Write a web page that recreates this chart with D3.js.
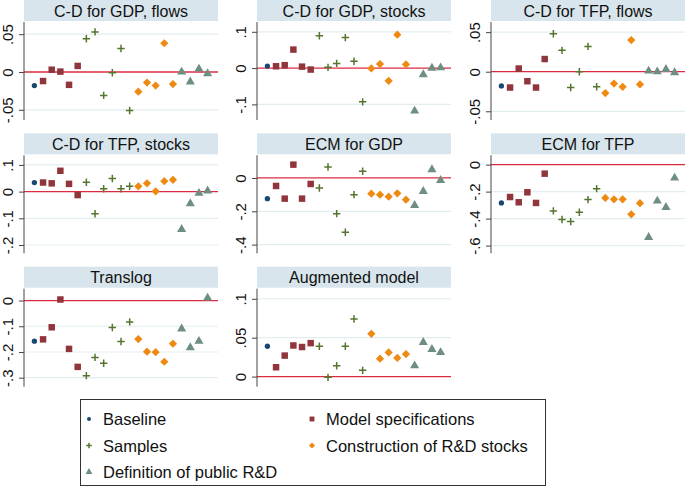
<!DOCTYPE html>
<html>
<head>
<meta charset="utf-8">
<script src="https://cdn.jsdelivr.net/npm/d3@7"></script>
<style>
body { margin: 0; background: #fff; }
text { font-family: Arial, "Liberation Sans", sans-serif; fill: #111; }
</style>
</head>
<body>
<script>
var width = 685;
var height = 487;

// groups of estimates, and which group each of the 21 estimates belongs to
var groups = ["Baseline", "Model specifications", "Samples", "Construction of R&D stocks", "Definition of public R&D"];
var groupOf = [0, 1,1,1,1,1, 2,2,2,2,2,2, 3,3,3,3,3, 4,4,4,4];

var titles = ["C-D for GDP, flows", "C-D for GDP, stocks", "C-D for TFP, flows",
              "C-D for TFP, stocks", "ECM for GDP", "ECM for TFP",
              "Translog", "Augmented model"];

var cdGdpFlows  = [-0.018, -0.012, 0.003, 0.0005, -0.017, 0.008, 0.044, 0.053, -0.031, -0.001, 0.031, -0.051, -0.026, -0.014, -0.018, 0.038, -0.016, 0.0, -0.013, 0.004, -0.002];
var cdGdpStocks = [0.0055, 0.005, 0.008, 0.051, 0.004, -0.004, 0.089, 0.002, 0.013, 0.084, 0.019, -0.093, -0.001, 0.011, -0.035, 0.092, 0.010, -0.118, -0.018, 0.0, 0.001];
var cdTfpFlows  = [-0.018, -0.020, 0.004, -0.012, -0.020, 0.016, 0.048, 0.027, -0.020, 0.0, 0.032, -0.019, -0.027, -0.015, -0.019, 0.040, -0.016, 0.001, 0.0, 0.003, -0.001];
var cdTfpStocks = [0.034, 0.034, 0.031, 0.078, 0.029, -0.013, 0.035, -0.083, 0.011, 0.049, 0.011, 0.020, 0.020, 0.031, 0.001, 0.039, 0.044, -0.141, -0.045, -0.006, 0.003];
var ecmGdp      = [-0.124, -0.048, -0.124, 0.080, -0.124, -0.036, -0.060, 0.066, -0.214, -0.326, -0.100, 0.040, -0.094, -0.100, -0.112, -0.092, -0.130, -0.164, -0.080, 0.050, -0.014];
var ecmTfp      = [-0.284, -0.240, -0.279, -0.205, -0.284, -0.067, -0.343, -0.407, -0.422, -0.353, -0.259, -0.178, -0.247, -0.257, -0.257, -0.368, -0.286, -0.539, -0.269, -0.316, -0.099];
var translog    = [-0.158, -0.151, -0.104, 0.004, -0.188, -0.258, -0.292, -0.221, -0.244, -0.105, -0.159, -0.083, -0.150, -0.199, -0.201, -0.238, -0.168, -0.110, -0.183, -0.158, 0.010];
var augmented   = [0.039, 0.012, 0.027, 0.040, 0.038, 0.043, 0.039, -0.001, 0.014, 0.039, 0.074, 0.008, 0.055, 0.023, 0.031, 0.024, 0.029, 0.014, 0.044, 0.035, 0.031];

var panelValues = [cdGdpFlows, cdGdpStocks, cdTfpFlows, cdTfpStocks, ecmGdp, ecmTfp, translog, augmented];

// y axes of each panel
var yDomains = [[-0.0635, 0.0661], [-0.143, 0.127], [-0.061, 0.0628], [-0.231, 0.136],
                [-0.452, 0.136], [-0.657, 0.069], [-0.335, 0.046], [-0.013, 0.113]];
var yTicks = [[-0.05, 0, 0.05], [-0.1, 0, 0.1], [-0.05, 0, 0.05], [-0.2, -0.1, 0, 0.1],
              [-0.4, -0.2, 0], [-0.6, -0.4, -0.2, 0], [-0.3, -0.2, -0.1, 0], [0, 0.05, 0.1]];
var yTickLabels = [["-.05", "0", ".05"], ["-.1", "0", ".1"], ["-.05", "0", ".05"], ["-.2", "-.1", "0", ".1"],
                   ["-.4", "-.2", "0"], ["-.6", "-.4", "-.2", "0"], ["-.3", "-.2", "-.1", "0"], ["0", ".05", ".1"]];

var colours = ["#1a476f", "#90353b", "#55752f", "#ee8a12", "#6e8e84"];

var svg = d3.select("body").append("svg")
    .attr("width", width)
    .attr("height", height);

var colX = [24, 257, 491];
var rowY = [0, 133.3, 266.7];
var plotW = 194;
var headH = 21;
var plotH = 98;

function drawMarker(g, grp, x, y, s) {
    var c = colours[grp];
    if (grp == 2) {
        var h = 3.7 * s;
        g.append("path")
            .attr("d", "M" + (x - h) + "," + y + "H" + (x + h) + "M" + x + "," + (y - h) + "V" + (y + h))
            .attr("stroke", c).attr("stroke-width", 1.5).attr("fill", "none");
        return;
    }
    // diamonds are drawn as squares turned by 45 degrees
    var type = [d3.symbolCircle, d3.symbolSquare, null, d3.symbolSquare, d3.symbolTriangle][grp];
    var size = [22, 42, 0, 34, 36][grp] * s * s;
    g.append("path")
        .attr("d", d3.symbol().type(type).size(size)())
        .attr("transform", "translate(" + x + "," + y + ")" + (grp == 3 ? " rotate(45)" : ""))
        .attr("fill", c);
}

for (var p = 0; p < panelValues.length; p++) {
    let x0 = colX[p % 3];
    let y0 = rowY[Math.floor(p / 3)];
    let top = y0 + headH + 1;
    let panel = svg.append("g");

    // title strip
    panel.append("rect")
        .attr("x", x0).attr("y", y0)
        .attr("width", plotW).attr("height", headH)
        .attr("fill", "#d8e5ec");
    panel.append("text")
        .attr("x", x0 + plotW / 2).attr("y", y0 + 16.5)
        .attr("text-anchor", "middle")
        .style("font-size", "16px")
        .text(titles[p]);

    let x = d3.scaleLinear().domain([-0.2, 22.2]).range([x0, x0 + plotW]);
    let y = d3.scaleLinear().domain(yDomains[p]).range([top + plotH, top]);

    // grid lines
    panel.selectAll(".grid")
        .data(yTicks[p].filter(function (t) { return t != 0; }))
        .enter().append("line")
        .attr("x1", x0).attr("x2", x0 + plotW)
        .attr("y1", function (d) { return y(d); })
        .attr("y2", function (d) { return y(d); })
        .attr("stroke", "#e3edf0").attr("stroke-width", 1.2);

    // zero reference line
    panel.append("line")
        .attr("x1", x0).attr("x2", x0 + plotW)
        .attr("y1", y(0)).attr("y2", y(0))
        .attr("stroke", "#dc2b40").attr("stroke-width", 1.3);

    // y axis
    let labels = yTickLabels[p];
    let axis = panel.append("g")
        .attr("transform", "translate(" + x0 + ",0)")
        .call(d3.axisLeft(y).tickValues(yTicks[p]).tickSize(5).tickPadding(4)
            .tickFormat(function (d, i) { return labels[i]; }));
    axis.select(".domain").attr("d", "M0," + top + "V" + (top + plotH)).attr("stroke", "#444");
    axis.selectAll(".tick line").attr("stroke", "#444");
    axis.selectAll(".tick text")
        .attr("x", null).attr("dy", null)
        .attr("text-anchor", "middle")
        .attr("transform", "translate(-11,0) rotate(-90)")
        .style("font-size", "15px")
        .style("font-family", "Arial, 'Liberation Sans', sans-serif")
        .attr("fill", "#111");

    // points
    let vals = panelValues[p];
    for (let i = 0; i < vals.length; i++) {
        drawMarker(panel, groupOf[i], x(i + 1), y(vals[i]), 1);
    }
}

// legend
var legend = svg.append("g");
legend.append("rect")
    .attr("x", 80.5).attr("y", 399.5)
    .attr("width", 465).attr("height", 86)
    .attr("fill", "#fff").attr("stroke", "#333").attr("stroke-width", 1);

var legendCol = [0, 1, 0, 1, 0];
var legendRow = [0, 0, 1, 1, 2];
for (var k = 0; k < groups.length; k++) {
    var lx = legendCol[k] ? 312 : 89;
    var ly = 419 + legendRow[k] * 26.5;
    drawMarker(legend, k, lx, ly, 0.75);
    legend.append("text")
        .attr("x", lx + 14).attr("y", ly + 6)
        .style("font-size", "16.5px")
        .text(groups[k]);
}
</script>
</body>
</html>
